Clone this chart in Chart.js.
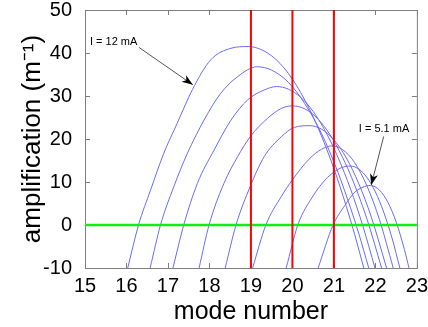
<!DOCTYPE html>
<html>
<head>
<meta charset="utf-8">
<script src="https://cdn.jsdelivr.net/npm/chart.js@4/dist/chart.umd.min.js"></script>
<style>
  body { margin: 0; background: #fff; }
  #wrap { width: 428px; height: 327px; }
</style>
</head>
<body>
<div id="wrap"><canvas id="myChart" width="428" height="327"></canvas></div>
<script>
// mode number / amplification, one pair per current (12 mA down to 5.1 mA)
const x1 = [16.03, 16.29, 16.58, 16.9, 17.22, 17.59, 18.03, 18.52, 18.93, 19.4, 19.8, 20.2, 20.6, 21.0, 21.3, 21.5, 21.72];
const y1 = [-10, 0, 8.1, 16.7, 23.6, 31.5, 38.4, 41.1, 41.5, 40.0, 36.5, 30.8, 23.0, 13.1, 4.3, -2.2, -10];
const x2 = [16.57, 16.82, 17.14, 17.47, 17.87, 18.27, 18.68, 19.15, 19.5, 19.9, 20.3, 20.7, 21.1, 21.4, 21.6, 21.84];
const y2 = [-10, 0, 8.9, 16.7, 24.4, 30.6, 34.5, 36.8, 36.0, 33.2, 28.2, 21.3, 12.2, 4.0, -2.0, -10];
const x3 = [17.12, 17.38, 17.71, 18.11, 18.52, 18.92, 19.32, 19.62, 19.9, 20.2, 20.5, 20.8, 21.1, 21.4, 21.7, 21.99];
const y3 = [-10, 0, 9.7, 17.4, 24.4, 29.1, 31.4, 32.2, 31.6, 29.7, 26.4, 21.7, 15.7, 8.4, -0.3, -10];
const x4 = [17.75, 17.99, 18.35, 18.68, 18.98, 19.4, 19.73, 20.0, 20.3, 20.6, 20.9, 21.2, 21.5, 21.8, 22.15];
const y4 = [-10, 0, 9.7, 15.9, 20.5, 24.8, 27.1, 27.7, 27.0, 24.8, 21.1, 15.9, 9.3, 1.3, -10];
const x5 = [18.38, 18.64, 18.98, 19.32, 19.73, 20.05, 20.42, 20.7, 21.0, 21.3, 21.6, 21.9, 22.27];
const y5 = [-10, 0, 8.9, 15.9, 20.5, 22.7, 23.1, 22.3, 19.8, 15.6, 9.6, 1.9, -10];
const x6 = [19.04, 19.36, 19.73, 20.0, 20.4, 20.7, 20.95, 21.2, 21.5, 21.8, 22.1, 22.43];
const y6 = [-10, 0, 6.6, 10.5, 15.3, 17.6, 18.4, 17.6, 14.5, 9.0, 1.2, -10];
const x7 = [19.85, 20.13, 20.5, 20.8, 21.0, 21.2, 21.4, 21.6, 21.8, 22.0, 22.2, 22.4, 22.59];
const y7 = [-10, 0, 6.8, 10.6, 12.3, 13.4, 13.7, 13.0, 11.0, 7.7, 3.0, -3.0, -10];
const x8 = [20.62, 20.98, 21.26, 21.5, 21.7, 21.88, 22.1, 22.3, 22.5, 22.7, 22.81];
const y8 = [-10, 0, 4.5, 7.6, 8.8, 9.2, 8.1, 5.3, 0.7, -5.7, -10];

const redModes = [19, 20, 21];   // vertical red markers
const zeroLevel = 0;             // green line
const xRange = [15, 23];
const yRange = [-10, 50];

const curvesX = [x1, x2, x3, x4, x5, x6, x7, x8];
const curvesY = [y1, y2, y3, y4, y5, y6, y7, y8];

const toPoints = (xs, ys) => xs.map((x, i) => ({ x: x, y: ys[i] }));

const datasets = [];
redModes.forEach(m => {
  datasets.push({
    data: [{ x: m, y: yRange[0] }, { x: m, y: yRange[1] }],
    borderColor: "#ff0000",
    borderWidth: 2,
  });
});
datasets.push({
  data: [{ x: xRange[0], y: zeroLevel }, { x: xRange[1], y: zeroLevel }],
  borderColor: "#11ee11",
  borderWidth: 2.5,
});
curvesX.forEach((xs, i) => {
  datasets.push({
    data: toPoints(xs, curvesY[i]),
    borderColor: "#6a6aff",
    borderWidth: 1,
    cubicInterpolationMode: "monotone",
  });
});

// box + inward tick marks, matlab style (drawn under the data lines)
const framePlugin = {
  id: "frame",
  beforeDatasetsDraw(chart) {
    const { ctx, chartArea: a, scales } = chart;
    ctx.save();
    ctx.strokeStyle = "#7f7f7f";
    ctx.lineWidth = 1;
    ctx.strokeRect(a.left + 0.5, a.top + 0.5, a.right - a.left, a.bottom - a.top);
    ctx.beginPath();
    scales.x.ticks.forEach(t => {
      const px = Math.round(scales.x.getPixelForValue(t.value)) + 0.5;
      ctx.moveTo(px, a.bottom); ctx.lineTo(px, a.bottom - 5);
      ctx.moveTo(px, a.top); ctx.lineTo(px, a.top + 5);
    });
    scales.y.ticks.forEach(t => {
      const py = Math.round(scales.y.getPixelForValue(t.value)) + 0.5;
      ctx.moveTo(a.left, py); ctx.lineTo(a.left + 5, py);
      ctx.moveTo(a.right, py); ctx.lineTo(a.right - 5, py);
    });
    ctx.stroke();
    ctx.restore();
  },
};

// the two current labels with arrows
const notes = [
  { text: "I = 12 mA", tx: 15.12, ty: 42.6, from: [16.3, 41.3], to: [17.6, 32.6] },
  { text: "I = 5.1 mA", tx: 21.6, ty: 22.3, from: [22.2, 20.6], to: [21.9, 9.3] },
];
const notePlugin = {
  id: "notes",
  afterDatasetsDraw(chart) {
    const { ctx, scales } = chart;
    const sx = v => scales.x.getPixelForValue(v);
    const sy = v => scales.y.getPixelForValue(v);
    ctx.save();
    ctx.font = "11px 'Liberation Sans', Arial, sans-serif";
    ctx.fillStyle = "#000";
    ctx.textBaseline = "middle";
    notes.forEach(n => {
      ctx.fillText(n.text, sx(n.tx), sy(n.ty));
      const x0 = sx(n.from[0]), y0 = sy(n.from[1]);
      const x1 = sx(n.to[0]), y1 = sy(n.to[1]);
      ctx.strokeStyle = "#555";
      ctx.lineWidth = 1;
      ctx.beginPath(); ctx.moveTo(x0, y0); ctx.lineTo(x1, y1); ctx.stroke();
      const ang = Math.atan2(y1 - y0, x1 - x0);
      ctx.beginPath();
      ctx.moveTo(x1, y1);
      ctx.lineTo(x1 - 11 * Math.cos(ang) + 4 * Math.sin(ang), y1 - 11 * Math.sin(ang) - 4 * Math.cos(ang));
      ctx.lineTo(x1 - 8 * Math.cos(ang), y1 - 8 * Math.sin(ang));
      ctx.lineTo(x1 - 11 * Math.cos(ang) - 4 * Math.sin(ang), y1 - 11 * Math.sin(ang) + 4 * Math.cos(ang));
      ctx.closePath();
      ctx.fillStyle = "#000";
      ctx.fill();
    });
    ctx.restore();
  },
};

const xTickFont = { family: "'Liberation Sans', Arial, sans-serif", size: 20, lineHeight: 1 };
const yTickFont = { family: "'Liberation Sans', Arial, sans-serif", size: 20, lineHeight: 0.5 };
const xTitleFont = { family: "'Liberation Sans', Arial, sans-serif", size: 25 };
const yTitleFont = { family: "'Liberation Sans', Arial, sans-serif", size: 26 };

const config = {
  type: "scatter",
  data: { datasets: datasets },
  options: {
    responsive: false,
    animation: false,
    showLine: true,
    layout: { padding: { left: 0, right: 11, top: 10, bottom: 0 } },
    elements: { point: { radius: 0 }, line: { fill: false } },
    plugins: { legend: { display: false }, tooltip: { enabled: false } },
    scales: {
      x: {
        type: "linear",
        min: xRange[0],
        max: xRange[1],
        grid: { display: false },
        border: { display: false },
        ticks: { stepSize: 1, color: "#000", font: xTickFont, padding: 0, maxRotation: 0 },
        title: { display: true, text: "mode number", color: "#000", font: xTitleFont, padding: { top: 0, bottom: 0 } },
        afterFit(scale) { scale.height = 59; },
      },
      y: {
        min: yRange[0],
        max: yRange[1],
        grid: { display: false },
        border: { display: false },
        ticks: { stepSize: 10, color: "#000", font: yTickFont, padding: 5 },
        title: { display: true, text: "amplification (m⁻¹)", color: "#000", font: yTitleFont, padding: { top: 17, bottom: 0 } },
        afterFit(scale) { scale.width = 85; },
      },
    },
  },
  plugins: [framePlugin, notePlugin],
};

const myChart = new Chart(document.getElementById("myChart"), config);
</script>
</body>
</html>
